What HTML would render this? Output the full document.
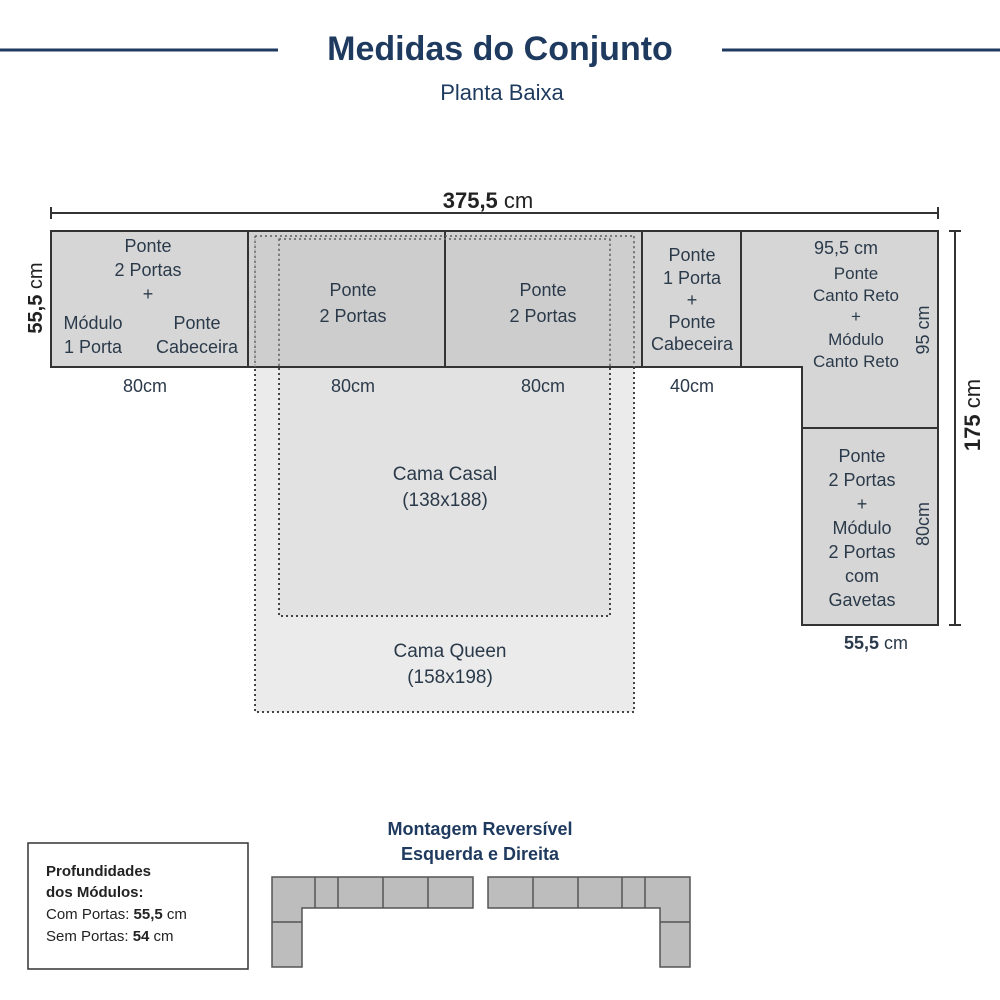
<!DOCTYPE html><html><head><style>body{margin:0;background:#fff}svg{display:block}text{font-family:"Liberation Sans",sans-serif}</style></head><body>
<svg width="1000" height="1000" viewBox="0 0 1000 1000" xmlns="http://www.w3.org/2000/svg">
<g stroke="#1f3a5f" stroke-width="3"><line x1="0" y1="50" x2="278" y2="50"/><line x1="722" y1="50" x2="1000" y2="50"/></g>
<text x="500" y="60" text-anchor="middle" font-size="34" font-weight="bold" fill="#1f3a5f">Medidas do Conjunto</text>
<text x="502" y="100" text-anchor="middle" font-size="22" fill="#1f3a5f">Planta Baixa</text>
<!-- dim top -->
<g stroke="#333" stroke-width="2"><line x1="51" y1="213" x2="938" y2="213"/><line x1="51" y1="207" x2="51" y2="219"/><line x1="938" y1="207" x2="938" y2="219"/>
<line x1="955" y1="231" x2="955" y2="625"/><line x1="949" y1="231" x2="961" y2="231"/><line x1="949" y1="625" x2="961" y2="625"/></g>
<text x="488" y="208" text-anchor="middle" font-size="22" fill="#222"><tspan font-weight="bold">375,5</tspan> cm</text>
<!-- beds -->
<rect x="255" y="236" width="379" height="476" fill="#ebebeb" stroke="#444" stroke-width="2" stroke-dasharray="2,3"/>
<rect x="279" y="239" width="331" height="377" fill="#e2e2e2" stroke="#444" stroke-width="2" stroke-dasharray="2,3"/>
<!-- modules -->
<g stroke="#333" stroke-width="2">
<rect x="51" y="231" width="197" height="136" fill="#d6d6d6"/>
<rect x="248" y="231" width="197" height="136" fill="#c9c9c9" fill-opacity="0.85"/>
<rect x="445" y="231" width="197" height="136" fill="#c9c9c9" fill-opacity="0.85"/>
<rect x="642" y="231" width="99" height="136" fill="#d6d6d6"/>
<path d="M741 231H938V428H802V367H741Z" fill="#d6d6d6"/>
<rect x="802" y="428" width="136" height="197" fill="#d6d6d6"/>
</g>
<g stroke="#666" stroke-width="1.5" stroke-dasharray="2,3" fill="none"><line x1="255" y1="236" x2="255" y2="367"/><line x1="279" y1="239" x2="279" y2="367"/><line x1="610" y1="239" x2="610" y2="367"/><line x1="634" y1="236" x2="634" y2="367"/><line x1="255" y1="236" x2="634" y2="236"/><line x1="279" y1="239" x2="610" y2="239"/></g>
<g font-size="18" fill="#2b3a4a" text-anchor="middle">
<text x="148" y="252">Ponte</text><text x="148" y="276">2 Portas</text><text x="148" y="300">+</text>
<text x="93" y="329">Módulo</text><text x="93" y="353">1 Porta</text><text x="197" y="329">Ponte</text><text x="197" y="353">Cabeceira</text>
<text x="353" y="296">Ponte</text><text x="353" y="322">2 Portas</text>
<text x="543" y="296">Ponte</text><text x="543" y="322">2 Portas</text>
<text x="692" y="261">Ponte</text><text x="692" y="284">1 Porta</text><text x="692" y="306">+</text><text x="692" y="328">Ponte</text><text x="692" y="350">Cabeceira</text>
<text x="846" y="254">95,5 cm</text>
<text x="856" y="279" font-size="17">Ponte</text><text x="856" y="301" font-size="17">Canto Reto</text><text x="856" y="322" font-size="17">+</text><text x="856" y="345" font-size="17">Módulo</text><text x="856" y="367" font-size="17">Canto Reto</text>
<text x="862" y="462">Ponte</text><text x="862" y="486">2 Portas</text><text x="862" y="510">+</text><text x="862" y="534">Módulo</text><text x="862" y="558">2 Portas</text><text x="862" y="582">com</text><text x="862" y="606">Gavetas</text>
<text x="145" y="392">80cm</text><text x="353" y="392">80cm</text><text x="543" y="392">80cm</text><text x="692" y="392">40cm</text>
<text x="876" y="649"><tspan font-weight="bold">55,5</tspan> cm</text>
<text x="445" y="480" font-size="19">Cama Casal</text><text x="445" y="506" font-size="19">(138x188)</text>
<text x="450" y="657" font-size="19">Cama Queen</text><text x="450" y="683" font-size="19">(158x198)</text>
<text transform="translate(929,330) rotate(-90)">95 cm</text>
<text transform="translate(929,524) rotate(-90)">80cm</text>
<text transform="translate(42,298) rotate(-90)" font-size="20" fill="#222"><tspan font-weight="bold">55,5</tspan> cm</text>
<text transform="translate(980,415) rotate(-90)" font-size="22" fill="#222"><tspan font-weight="bold">175</tspan> cm</text>
</g>
<!-- bottom -->
<rect x="28" y="843" width="220" height="126" fill="#fff" stroke="#333" stroke-width="1.5"/>
<g font-size="15" fill="#222"><text x="46" y="876" font-weight="bold">Profundidades</text><text x="46" y="897" font-weight="bold">dos Módulos:</text>
<text x="46" y="919">Com Portas: <tspan font-weight="bold">55,5</tspan> cm</text><text x="46" y="941">Sem Portas: <tspan font-weight="bold">54</tspan> cm</text></g>
<g font-size="18" font-weight="bold" fill="#1f3a5f" text-anchor="middle"><text x="480" y="835">Montagem Reversível</text><text x="480" y="860">Esquerda e Direita</text></g>
<g stroke="#555" stroke-width="1.5" fill="#bdbdbd">
<path d="M272 877H473V908H302V967H272Z"/><line x1="272" y1="922" x2="302" y2="922"/><line x1="315" y1="877" x2="315" y2="908"/><line x1="338" y1="877" x2="338" y2="908"/><line x1="383" y1="877" x2="383" y2="908"/><line x1="428" y1="877" x2="428" y2="908"/>
<path d="M488 877H690V967H660V908H488Z"/><line x1="660" y1="922" x2="690" y2="922"/><line x1="533" y1="877" x2="533" y2="908"/><line x1="578" y1="877" x2="578" y2="908"/><line x1="622" y1="877" x2="622" y2="908"/><line x1="645" y1="877" x2="645" y2="908"/>
</g>
</svg></body></html>
